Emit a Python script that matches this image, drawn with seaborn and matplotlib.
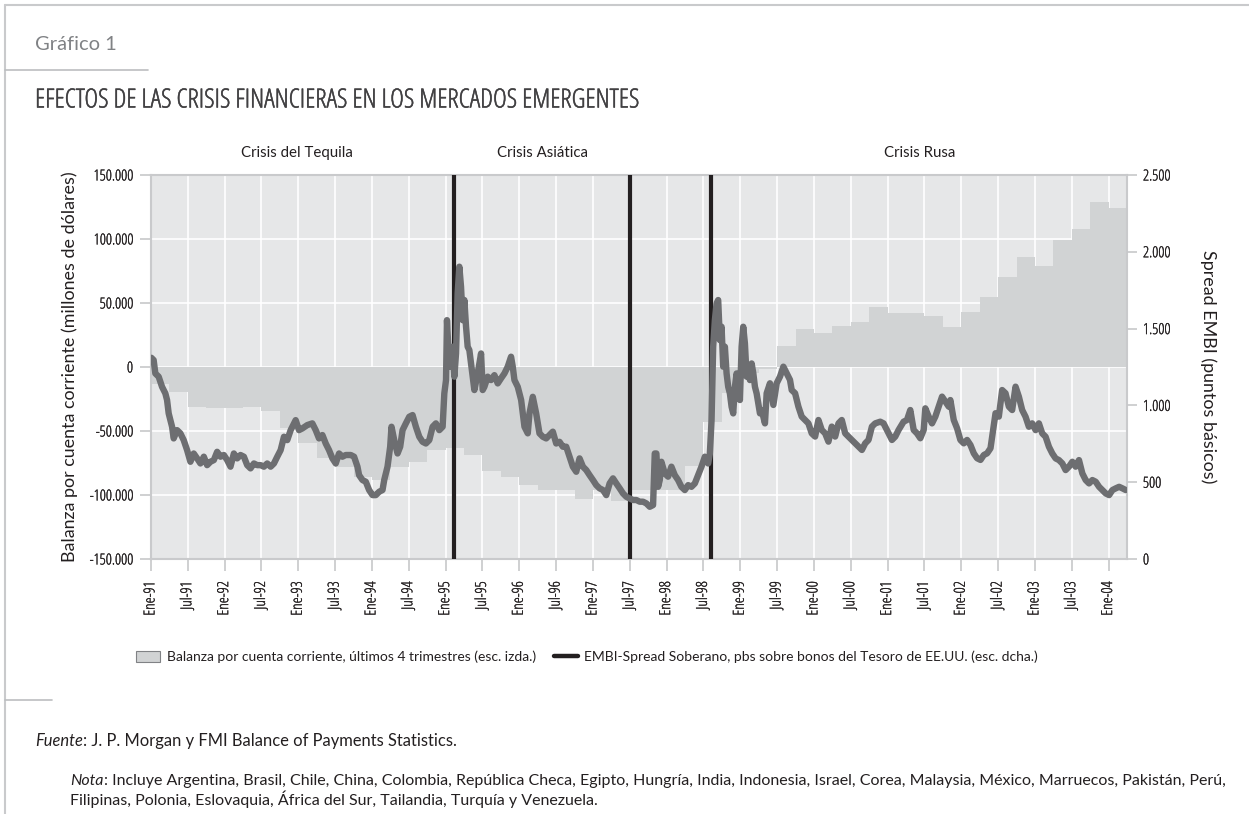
import numpy as np
import matplotlib
matplotlib.use("Agg")
import matplotlib.pyplot as plt
import matplotlib.transforms as mtransforms
import matplotlib.patheffects as pe
from matplotlib import font_manager as fm
from matplotlib.font_manager import FontProperties
from matplotlib.patches import Patch
from matplotlib.lines import Line2D
import seaborn as sns

# ---------------- DATA ----------------
first_year = 1991  # first quarter of the current-account series = 1991 Q1
balanza = [
    -13300, -19800, -31000, -32300, -32300, -31000, -34100, -47900,
    -59100, -71400, -77900, -86000, -88300, -77900, -74000, -64800,
    -63500, -68750, -81250, -86200, -92200, -96000, -96100, -103400,
    -96100, -104400, -96100, -96100, -96100, -77500, -43000, -20000,
    -5000, -1500, 16700, 29700, 26300, 32300, 34900, 47100,
    42400, 42000, 39800, 31500, 43200, 54400, 70000, 85700,
    78900, 99200, 107800, 128600, 124000,
]

embi_t = [
    1991.005, 1991.036, 1991.059, 1991.104, 1991.150, 1991.195, 1991.218, 1991.240,
    1991.286, 1991.308, 1991.354, 1991.399, 1991.444, 1991.490, 1991.535, 1991.580,
    1991.626, 1991.671, 1991.717, 1991.762, 1991.807, 1991.853, 1991.898, 1991.943,
    1991.989, 1992.034, 1992.079, 1992.125, 1992.170, 1992.215, 1992.261, 1992.306,
    1992.351, 1992.397, 1992.442, 1992.488, 1992.533, 1992.578, 1992.624, 1992.669,
    1992.714, 1992.760, 1992.805, 1992.850, 1992.896, 1992.941, 1992.964, 1993.009,
    1993.054, 1993.122, 1993.190, 1993.236, 1993.281, 1993.327, 1993.372, 1993.417,
    1993.463, 1993.508, 1993.553, 1993.599, 1993.644, 1993.712, 1993.757, 1993.803,
    1993.825, 1993.871, 1993.916, 1993.961, 1994.007, 1994.052, 1994.098, 1994.143,
    1994.166, 1994.211, 1994.247, 1994.265, 1994.302, 1994.347, 1994.383, 1994.415,
    1994.460, 1994.506, 1994.551, 1994.596, 1994.642, 1994.687, 1994.732, 1994.778,
    1994.823, 1994.868, 1994.914, 1994.959, 1994.982, 1995.005, 1995.018, 1995.036,
    1995.063, 1995.095, 1995.118, 1995.141, 1995.163, 1995.186, 1995.209, 1995.231,
    1995.254, 1995.277, 1995.299, 1995.322, 1995.345, 1995.390, 1995.435, 1995.481,
    1995.503, 1995.526, 1995.571, 1995.616, 1995.662, 1995.707, 1995.752, 1995.798,
    1995.843, 1995.888, 1995.911, 1995.934, 1995.979, 1996.025, 1996.070, 1996.115,
    1996.138, 1996.183, 1996.229, 1996.274, 1996.319, 1996.365, 1996.410, 1996.455,
    1996.501, 1996.546, 1996.591, 1996.637, 1996.682, 1996.727, 1996.773, 1996.818,
    1996.864, 1996.909, 1996.954, 1997.000, 1997.045, 1997.090, 1997.136, 1997.181,
    1997.226, 1997.272, 1997.317, 1997.363, 1997.408, 1997.453, 1997.499, 1997.544,
    1997.589, 1997.635, 1997.680, 1997.725, 1997.771, 1997.816, 1997.839, 1997.861,
    1997.884, 1997.907, 1997.929, 1997.975, 1998.020, 1998.065, 1998.111, 1998.156,
    1998.201, 1998.247, 1998.292, 1998.337, 1998.383, 1998.428, 1998.473, 1998.519,
    1998.564, 1998.587, 1998.610, 1998.632, 1998.655, 1998.678, 1998.700, 1998.723,
    1998.746, 1998.768, 1998.791, 1998.814, 1998.836, 1998.859, 1998.882, 1998.904,
    1998.927, 1998.950, 1998.972, 1998.995, 1999.018, 1999.040, 1999.063, 1999.086,
    1999.108, 1999.131, 1999.154, 1999.177, 1999.199, 1999.222, 1999.267,
    1999.290, 1999.335, 1999.358, 1999.403, 1999.449, 1999.494, 1999.539, 1999.585,
    1999.630, 1999.675, 1999.698, 1999.744, 1999.789, 1999.834, 1999.880, 1999.925,
    1999.970, 2000.016, 2000.061, 2000.106, 2000.152, 2000.197, 2000.242, 2000.288,
    2000.333, 2000.378, 2000.424, 2000.469, 2000.514, 2000.583, 2000.651, 2000.696,
    2000.741, 2000.787, 2000.832, 2000.900, 2000.945, 2000.991, 2001.059, 2001.104,
    2001.149, 2001.217, 2001.263, 2001.308, 2001.354, 2001.399, 2001.444, 2001.490,
    2001.512, 2001.558, 2001.603, 2001.648, 2001.694, 2001.739, 2001.784, 2001.830,
    2001.852, 2001.898, 2001.943, 2001.988, 2002.034, 2002.079, 2002.125, 2002.170,
    2002.215, 2002.261, 2002.306, 2002.351, 2002.397, 2002.420, 2002.465, 2002.510,
    2002.555, 2002.601, 2002.646, 2002.691, 2002.737, 2002.782, 2002.827,
    2002.873, 2002.918, 2002.963, 2003.009, 2003.054, 2003.099, 2003.145, 2003.190,
    2003.236, 2003.281, 2003.326, 2003.372, 2003.417, 2003.462, 2003.508, 2003.553,
    2003.598, 2003.644, 2003.689, 2003.735, 2003.780, 2003.825, 2003.871, 2003.916,
    2003.961, 2004.007, 2004.052, 2004.097, 2004.143, 2004.188, 2004.233,
]
embi_v = [
    1310, 1295, 1208, 1187, 1121, 1078, 1035, 948,
    861, 785, 839, 818, 774, 709, 633, 687,
    655, 622, 666, 611, 633, 644, 698, 666,
    677, 644, 601, 687, 655, 677, 666, 611,
    590, 622, 611, 611, 601, 622, 601, 622,
    666, 709, 796, 774, 839, 883, 904, 839,
    850, 872, 883, 839, 785, 807, 752, 709,
    655, 622, 687, 666, 677, 677, 666, 601,
    546, 514, 503, 449, 416, 416, 438, 449,
    514, 601, 731, 861, 774, 687, 731, 839,
    883, 926, 937, 861, 796, 763, 752, 774,
    861, 883, 839, 861, 1078, 1165, 1555, 1382,
    1252, 1382, 1187, 1338, 1729, 1903, 1772, 1555,
    1686, 1512, 1382, 1360, 1273, 1100, 1208, 1338,
    1100, 1121, 1187, 1165, 1197, 1143, 1176, 1208,
    1252, 1317, 1252, 1165, 1121, 1035, 861, 818,
    948, 1056, 948, 818, 796, 785, 807, 829,
    752, 763, 731, 731, 666, 601, 568, 655,
    601, 579, 546, 514, 481, 460, 449, 416,
    492, 525, 492, 460, 427, 405, 394, 384,
    384, 373, 373, 362, 340, 351, 687, 687,
    470, 514, 633, 557, 536, 601, 546, 514,
    470, 449, 481, 470, 492, 546, 601, 666,
    622, 687, 904, 1382, 1555, 1664, 1686, 1425,
    1512, 1252, 1382, 1208, 1121, 1078, 991, 948,
    1121, 1208, 1121, 1035, 1382, 1512, 1403, 1187,
    1252, 1165, 1273, 1208, 1121, 1078, 948,
    970, 883, 1079, 1144, 1003, 1144, 1187, 1252,
    1209, 1166, 1100, 1079, 992, 927, 905, 883,
    818, 797, 905, 840, 818, 764, 862, 797,
    883, 905, 818, 797, 775, 742, 710, 753,
    775, 862, 883, 894, 883, 840, 775, 797,
    840, 894, 905, 970, 840, 818, 786, 840,
    981, 927, 883, 927, 992, 1057, 1025, 992,
    1035, 905, 851, 775, 753, 775, 742, 688,
    656, 645, 677, 688, 721, 797, 949, 927,
    1100, 1079, 992, 970, 1122, 1057, 970,
    926, 861, 883, 839, 883, 818, 796, 731,
    687, 655, 644, 622, 579, 601, 633, 601,
    644, 557, 514, 492, 514, 503, 470, 449,
    427, 416, 449, 460, 470, 460, 449,
]

crisis_dates = [1995.12, 1997.50, 1998.60]
crisis_labels = ["Crisis del Tequila", "Crisis Asiática", "Crisis Rusa"]
crisis_label_x = [1992.98, 1996.31, 2001.44]

xtick_years = [1991.0, 1991.5, 1992.0, 1992.5, 1993.0, 1993.5, 1994.0, 1994.5,
               1995.0, 1995.5, 1996.0, 1996.5, 1997.0, 1997.5, 1998.0, 1998.5,
               1999.0, 1999.5, 2000.0, 2000.5, 2001.0, 2001.5, 2002.0, 2002.5,
               2003.0, 2003.5, 2004.0]
xtick_labels = ["Ene-91", "Jul-91", "Ene-92", "Jul-92", "Ene-93", "Jul-93", "Ene-94",
                "Jul-94", "Ene-95", "Jul-95", "Ene-96", "Jul-96", "Ene-97", "Jul-97",
                "Ene-98", "Jul-98", "Ene-99", "Jul-99", "Ene-00", "Jul-00", "Ene-01",
                "Jul-01", "Ene-02", "Jul-02", "Ene-03", "Jul-03", "Ene-04"]
left_ticks = [-150000, -100000, -50000, 0, 50000, 100000, 150000]
left_tick_labels = ["-150.000", "-100.000", "-50.000", "0", "50.000", "100.000", "150.000"]
right_ticks = [0, 500, 1000, 1500, 2000, 2500]
right_tick_labels = ["0", "500", "1.000", "1.500", "2.000", "2.500"]

legend_labels = ["Balanza por cuenta corriente, últimos 4 trimestres (esc. izda.)",
                 "EMBI-Spread Soberano, pbs sobre bonos del Tesoro de EE.UU. (esc. dcha.)"]
title = "EFECTOS DE LAS CRISIS FINANCIERAS EN LOS MERCADOS EMERGENTES"
ylabel_left = "Balanza por cuenta corriente (millones de dólares)"
ylabel_right = "Spread EMBI (puntos básicos)"
fuente_rest = ": J. P. Morgan y FMI Balance of Payments Statistics."
nota_rest = (": Incluye Argentina, Brasil, Chile, China, Colombia, República Checa, Egipto, "
             "Hungría, India, Indonesia, Israel, Corea, Malaysia, México, Marruecos, Pakistán, Perú,")
nota_line2 = "Filipinas, Polonia, Eslovaquia, África del Sur, Tailandia, Turquía y Venezuela."

# ---------------- STYLE ----------------
sns.set_theme(style="white")
plt.rcParams['font.family'] = ['Lato', 'DejaVu Sans']
BG = "#e6e7e8"
BAR = "#d1d3d4"
LINE = "#6d6e71"
BLACK = "#231f20"
TXT = "#231f20"
FRAME = "#c9cacc"


# pick a condensed face if one is installed (for ticks and title)
def find_condensed():
    prefs = ["Liberation Sans Narrow", "Noto Sans", "Open Sans", "DejaVu Sans", "Roboto"]
    found = {}
    for f in fm.fontManager.ttflist:
        nm = f.name
        cond = (str(f.stretch) in ("condensed", "semi-condensed", "extra-condensed")
                or "Narrow" in nm or "Condensed" in nm
                or "Condensed" in f.fname or "Narrow" in f.fname)
        if not cond or f.style != "normal":
            continue
        w = f.weight if isinstance(f.weight, int) else 400
        if w > 500:
            continue
        key = nm.replace(" Narrow", "").replace(" Condensed", "")
        score = (prefs.index(key) if key in prefs else 10, abs(w - 350))
        if key not in found or score < found[key][0]:
            found[key] = (score, f.fname)
    if not found:
        return None
    return min(found.values())[1]


COND = find_condensed()


def cfp(size):
    if COND:
        return FontProperties(fname=COND, size=size)
    return FontProperties(family=["Lato", "DejaVu Sans"], size=size)


def rfp(size, style="normal"):
    return FontProperties(family=["Lato", "DejaVu Sans"], size=size, style=style)


W, H = 1249, 814
fig = plt.figure(figsize=(W / 100, H / 100), dpi=100)
fig.patch.set_facecolor("white")
renderer = fig.canvas.get_renderer()


def text_width(s, fp):
    t = fig.text(0, 0, s, fontproperties=fp)
    w = t.get_window_extent(renderer).width
    t.remove()
    return w


def size_for(s, target, maker, cap=None):
    sz = 10 * target / text_width(s, maker(10))
    if cap is not None:
        sz = min(sz, cap)
    return sz


def fx(px):
    return px / W


def fy(py):
    return 1 - py / H


def bolden(txt, lw, color):
    txt.set_path_effects([pe.withStroke(linewidth=lw, foreground=color)])


# axes geometry
L, R, T, B = 151, 1127, 175, 559
ax = fig.add_axes([fx(L), fy(B), fx(R - L), (B - T) / H])
ax.set_facecolor(BG)
ax.set_axisbelow(True)
ax2 = ax.twinx()

# current-account quarterly steps
bx = first_year + np.arange(len(balanza) + 1) / 4.0
by = np.append(balanza, balanza[-1])
ax.fill_between(bx, by, 0, step="post", color=BAR, linewidth=0, zorder=1.5)

# crisis markers
for d in crisis_dates:
    ax.axvline(d, color=BLACK, lw=3.0, zorder=3)

# EMBI spread line
sns.lineplot(x=embi_t, y=embi_v, ax=ax2, color=LINE, linewidth=4.6, sort=False,
             estimator=None, legend=False)
for ln in ax2.get_lines():
    ln.set_solid_joinstyle("round")
    ln.set_solid_capstyle("round")

ax.set_xlim(first_year, first_year + len(balanza) / 4.0)
ax.set_ylim(-150000, 150000)
ax2.set_ylim(0, 2500)

ytick_size = size_for("150.000", 43, cfp, cap=11)
xtick_size = size_for("Ene-91", 37, cfp, cap=11)
ax.set_xticks(xtick_years)
ax.set_xticklabels(xtick_labels, rotation=90, color=TXT, fontproperties=cfp(xtick_size))
ax.set_yticks(left_ticks)
ax.set_yticklabels(left_tick_labels, color=TXT, fontproperties=cfp(ytick_size))
ax2.set_yticks(right_ticks)
ax2.set_yticklabels(right_tick_labels, color=TXT, fontproperties=cfp(ytick_size))
for tl in ax.get_xticklabels() + ax.get_yticklabels() + ax2.get_yticklabels():
    bolden(tl, 0.18, TXT)

ax.tick_params(axis="x", direction="out", length=8.5, width=1.2, color="#c7c8ca", pad=7.5,
               bottom=True)
ax.tick_params(axis="y", direction="out", length=8, width=1.2, color="#c7c8ca", pad=5,
               left=True)
ax2.tick_params(axis="y", direction="out", length=7.5, width=1.2, color="#c7c8ca", pad=4,
                right=True)

ax.grid(True, color="white", lw=1.2)
ax2.grid(False)
for sp in ax.spines.values():
    sp.set_color(FRAME)
    sp.set_linewidth(1.5)
    sp.set_visible(True)
for sp in ax2.spines.values():
    sp.set_visible(False)

lab_size = size_for(ylabel_left, 390, rfp)
ax.set_ylabel(ylabel_left, color=TXT, va="center", fontproperties=rfp(lab_size))
ax.yaxis.set_label_coords((70 - L) / (R - L), 0.5)
ax2.set_ylabel(ylabel_right, color=TXT, rotation=-90, va="center",
               fontproperties=rfp(lab_size))
ax2.yaxis.set_label_coords((1208 - L) / (R - L), 0.5)

# crisis labels
crisis_size = size_for(crisis_labels[0], 112, rfp)
trans = mtransforms.blended_transform_factory(ax.transData, ax.transAxes)
for xl, lbl in zip(crisis_label_x, crisis_labels):
    ax.text(xl, (B - 153) / (B - T), lbl, transform=trans, ha="center", va="center",
            color=TXT, fontproperties=rfp(crisis_size))

# header texts
fig.text(fx(35), fy(45), "Gráfico 1", fontproperties=rfp(size_for("Gráfico 1", 82, rfp)),
         color="#808285", va="center", ha="left")
ttl = fig.text(fx(35), fy(101), title, fontproperties=cfp(size_for(title, 615, cfp, cap=19)),
               color="#414042", va="center", ha="left")
bolden(ttl, 0.35, "#414042")

# frame lines
fig.add_artist(Line2D([fx(5), 1], [fy(5), fy(5)], transform=fig.transFigure, color=FRAME, lw=1.5))
fig.add_artist(Line2D([fx(5), fx(5)], [0, fy(5)], transform=fig.transFigure, color=FRAME, lw=1.5))
fig.add_artist(Line2D([fx(5), fx(148)], [fy(70), fy(70)], transform=fig.transFigure,
                      color="#bcbec0", lw=1.2))
fig.add_artist(Line2D([fx(5), fx(52)], [fy(700), fy(700)], transform=fig.transFigure,
                      color="#bcbec0", lw=1.2))

# legend
leg_size = size_for(legend_labels[0], 370, rfp)
handles = [Patch(facecolor=BAR, edgecolor="#808285", linewidth=0.8),
           Line2D([], [], color=BLACK, lw=3.2)]
fig.legend(handles=handles, labels=legend_labels, loc="center left",
           bbox_to_anchor=(fx(136), fy(657)), ncol=2, frameon=False, prop=rfp(leg_size),
           handlelength=1.7, handleheight=0.75, handletextpad=0.5, columnspacing=1.3,
           borderaxespad=0, borderpad=0, labelcolor=TXT)


# footnotes (italic prefix + normal rest)
def two_part(x, y, prefix, rest, target):
    wp = text_width(prefix, rfp(10, "italic"))
    wr = text_width(rest, rfp(10))
    s = 10 * target / (wp + wr)
    fig.text(fx(x), fy(y), prefix, fontproperties=rfp(s, "italic"), color=TXT, va="center")
    fig.text(fx(x) + (wp * s / 10) / W, fy(y), rest, fontproperties=rfp(s), color=TXT,
             va="center")
    return s


two_part(35, 741, "Fuente", fuente_rest, 420)
s_nota = two_part(70, 781, "Nota", nota_rest, 1155)
fig.text(fx(70), fy(799), nota_line2, fontproperties=rfp(s_nota), color=TXT, va="center")

fig.savefig("out.png", dpi=100, facecolor="white")
